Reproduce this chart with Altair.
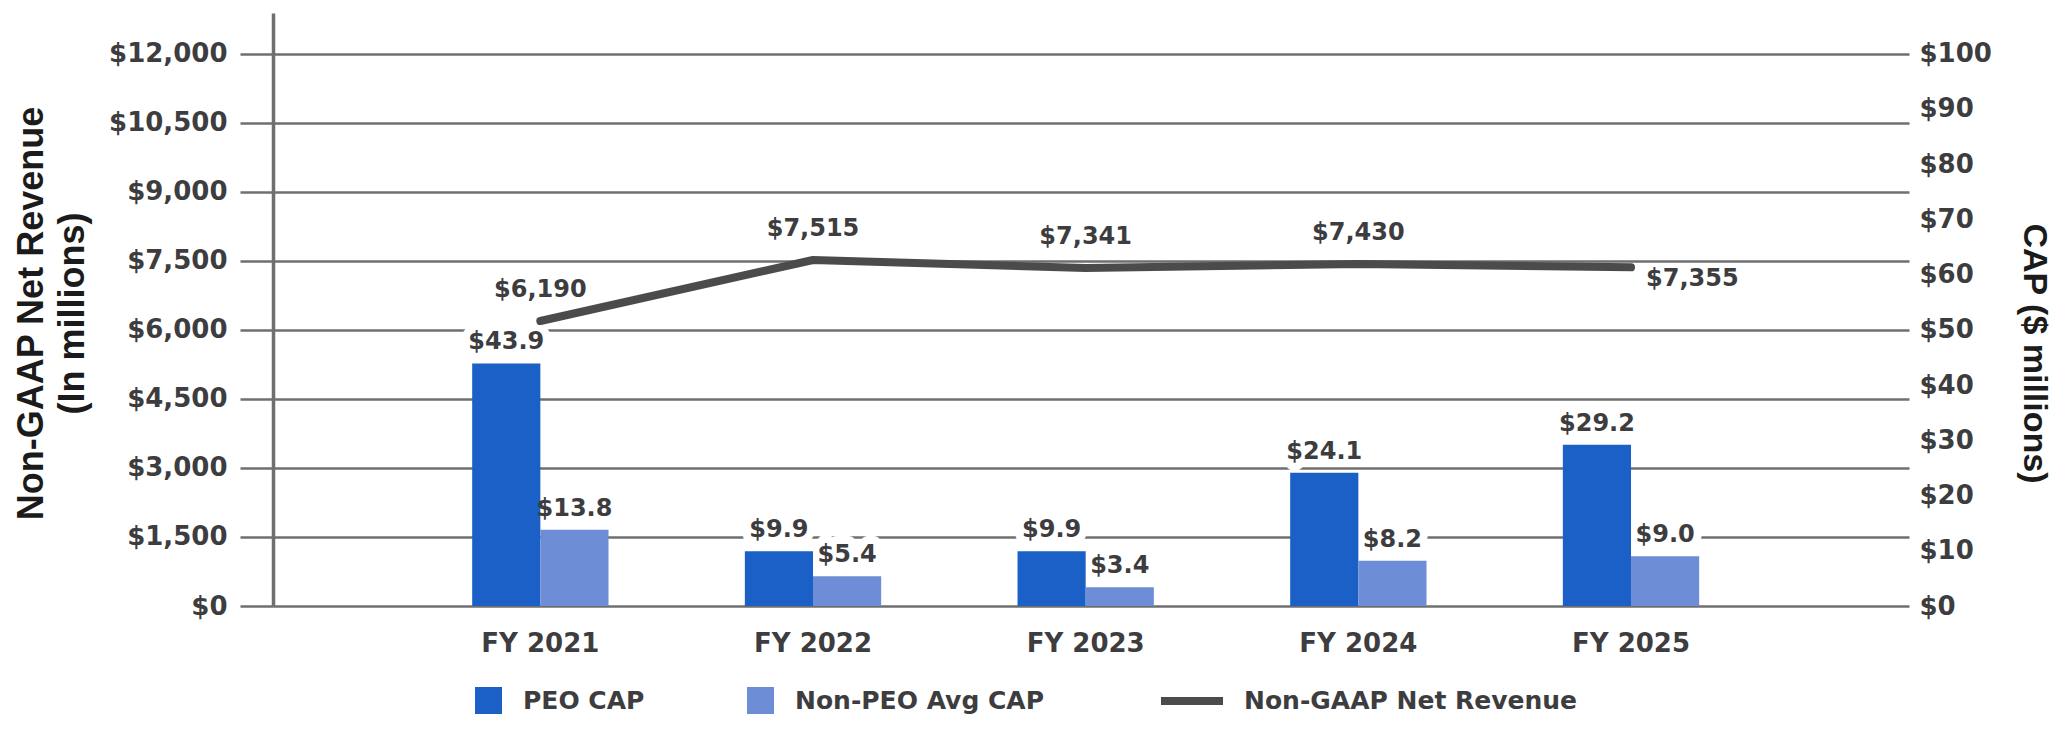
import altair as alt
import pandas as pd

# ---- data ----
years = ["FY 2021", "FY 2022", "FY 2023", "FY 2024", "FY 2025"]
peo_cap = [43.9, 9.9, 9.9, 24.1, 29.2]
non_peo_cap = [13.8, 5.4, 3.4, 8.2, 9.0]
revenue = [6190, 7515, 7341, 7430, 7355]
bar_series = ["PEO CAP", "Non-PEO Avg CAP"]
line_series = "Non-GAAP Net Revenue"
left_ticks = [0, 1500, 3000, 4500, 6000, 7500, 9000, 10500, 12000]
right_ticks = [0, 10, 20, 30, 40, 50, 60, 70, 80, 90, 100]

# ---- tables built from the arrays ----
bars_df = pd.DataFrame({
    "year": years * 2,
    "series": [bar_series[0]] * len(years) + [bar_series[1]] * len(years),
    "value": peo_cap + non_peo_cap,
})
bars_df["label"] = bars_df["value"].map(lambda v: f"${v:.1f}")

line_df = pd.DataFrame({"year": years, "series": line_series, "revenue": revenue})
line_df["label"] = line_df["revenue"].map(lambda v: f"${v:,.0f}")
line_df["last"] = [i == len(years) - 1 for i in range(len(years))]

# ---- styling ----
W, H = 1636, 593
LEFT_MAX = 12880
RIGHT_MAX = 100 * LEFT_MAX / 12000
FONT = "DejaVu Sans"
TITLE_FONT = "Liberation Sans"
TXT = "#3d3d3f"
GRID = "#6f6f6f"
PEO_C = "#1a60c6"
NON_C = "#6d8dd6"
LINE_C = "#4b4b4d"

x_enc = alt.X(
    "year:N", sort=years,
    scale=alt.Scale(paddingInner=0.5, paddingOuter=0.75, align=0.487),
    axis=alt.Axis(title=None, labelAngle=0, domain=False, ticks=False, grid=False,
                  labelPadding=24, labelFont=FONT, labelFontSize=26,
                  labelFontWeight="bold", labelColor=TXT),
)

y_right = alt.Y(
    "value:Q",
    scale=alt.Scale(domain=[0, RIGHT_MAX], nice=False, zero=True),
    axis=alt.Axis(orient="right", values=right_ticks, format="$,.0f", grid=False,
                  domain=False, ticks=False, labelPadding=10, labelFont=FONT,
                  labelFontSize=26, labelFontWeight="bold", labelColor=TXT,
                  title="CAP ($ millions)", titleFont=TITLE_FONT, titleFontSize=34,
                  titleFontWeight="bold", titleColor="#1b1b1b", titleAngle=90,
                  titleAlign="center", titleBaseline="middle",
                  titleX=124, titleY=340),
)

y_left = alt.Y(
    "revenue:Q",
    scale=alt.Scale(domain=[0, LEFT_MAX], nice=False, zero=True),
    axis=alt.Axis(orient="left", values=left_ticks, format="$,.0f", grid=True,
                  gridColor=GRID, gridWidth=2.5, domain=True, domainColor=GRID,
                  domainWidth=3.5, ticks=True, tickSize=33, tickColor=GRID,
                  tickWidth=2.5, labelPadding=13, labelFont=FONT, labelFontSize=26,
                  labelFontWeight="bold", labelColor=TXT,
                  title=["Non-GAAP Net Revenue", "(In millions)"],
                  titleFont=TITLE_FONT, titleFontSize=36, titleFontWeight="bold",
                  titleColor="#1b1b1b", titleAngle=-90, titleAlign="center",
                  titleBaseline="top", titleLineHeight=41,
                  titleX=-259, titleY=300),
)

xoff = alt.XOffset("series:N", sort=bar_series)

base_bars = alt.Chart(bars_df)
bar_halo = base_bars.mark_text(
    font=FONT, fontSize=24, fontWeight="bold", dy=-14, baseline="alphabetic",
    fill="white", stroke="white", strokeWidth=16, strokeJoin="round",
).encode(x=x_enc, xOffset=xoff, y=y_right, text="label:N")
bars = base_bars.mark_bar().encode(
    x=x_enc,
    xOffset=xoff,
    y=y_right,
    color=alt.Color(
        "series:N",
        scale=alt.Scale(domain=bar_series, range=[PEO_C, NON_C]),
        legend=alt.Legend(title=None, orient="none", legendX=202, legendY=674,
                          direction="horizontal", symbolType="square",
                          symbolSize=729, symbolStrokeWidth=0, labelFont=FONT,
                          labelFontSize=25, labelFontWeight="bold",
                          labelColor=TXT, labelOffset=21, columnPadding=102,
                          labelLimit=600),
    ),
)
bar_text = base_bars.mark_text(
    font=FONT, fontSize=24, fontWeight="bold", dy=-14, baseline="alphabetic",
    color=TXT,
).encode(x=x_enc, xOffset=xoff, y=y_right, text="label:N")

bar_group = alt.layer(bar_halo, bars, bar_text)

base_line = alt.Chart(line_df)
line = base_line.mark_line(strokeWidth=8, strokeCap="round", strokeJoin="round").encode(
    x=x_enc,
    y=y_left,
    stroke=alt.Stroke(
        "series:N",
        scale=alt.Scale(domain=[line_series], range=[LINE_C]),
        legend=alt.Legend(title=None, orient="none", legendX=884, legendY=653,
                          direction="horizontal", symbolType="stroke",
                          symbolSize=3844, symbolStrokeWidth=8, labelFont=FONT,
                          labelFontSize=25, labelFontWeight="bold",
                          labelColor=TXT, labelOffset=17, labelLimit=600),
    ),
)
line_text = base_line.transform_filter("!datum.last").mark_text(
    font=FONT, fontSize=24, fontWeight="bold", dy=-31, baseline="middle", color=TXT,
).encode(x=x_enc, y=y_left, text="label:N")
line_text_last = base_line.transform_filter("datum.last").mark_text(
    font=FONT, fontSize=24, fontWeight="bold", dx=15, dy=12, align="left",
    baseline="middle", color=TXT,
).encode(x=x_enc, y=y_left, text="label:N")

line_group = alt.layer(line, line_text, line_text_last)

chart = alt.layer(bar_group, line_group).resolve_scale(
    y="independent", color="independent"
).properties(
    width=W, height=H,
    autosize=alt.AutoSizeParams(type="none"),
    padding={"left": 265, "top": 5, "right": 153, "bottom": 117},
    background="white",
).configure_view(stroke=None)

chart.save("out.html", embed_options={"renderer": "svg", "actions": False})
